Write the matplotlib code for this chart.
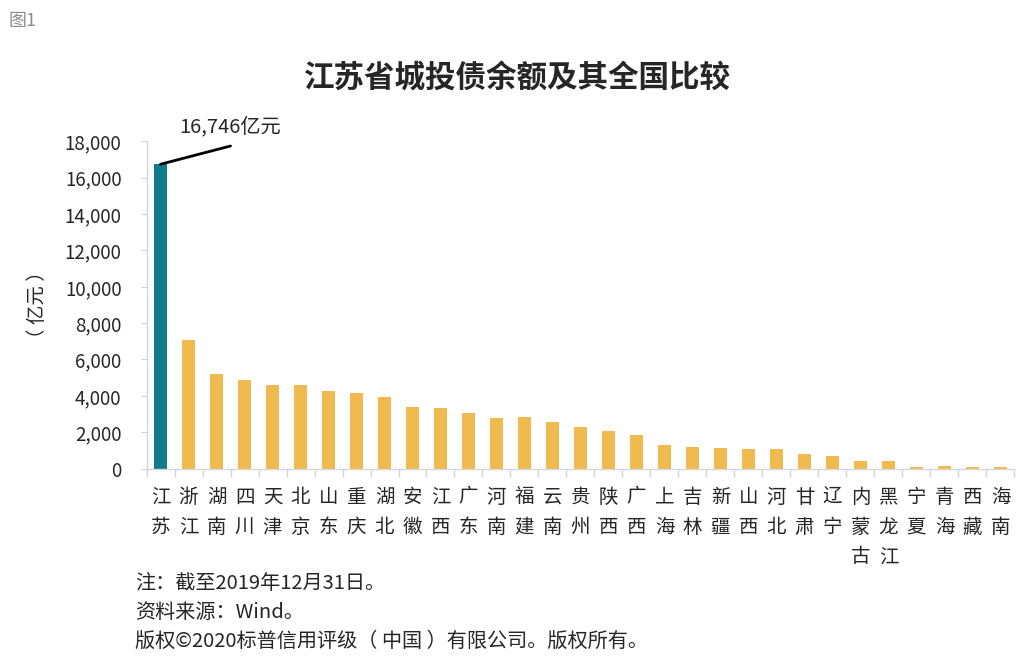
import numpy as np
import matplotlib
matplotlib.use('Agg')
import matplotlib.pyplot as plt

plt.rcParams['font.family'] = ['Noto Sans CJK SC', 'DejaVu Sans']

# 省份名称与城投债余额（亿元）
provinces = ['江苏', '浙江', '湖南', '四川', '天津', '北京', '山东', '重庆', '湖北', '安徽',
             '江西', '广东', '河南', '福建', '云南', '贵州', '陕西', '广西', '上海', '吉林',
             '新疆', '山西', '河北', '甘肃', '辽宁', '内蒙古', '黑龙江', '宁夏', '青海', '西藏', '海南']
balance = [16746, 7100, 5220, 4880, 4620, 4610, 4250, 4140, 3920, 3360,
           3340, 3040, 2800, 2840, 2550, 2260, 2040, 1870, 1270, 1170,
           1140, 1100, 1050, 810, 680, 440, 440, 110, 130, 90, 70]
highlight = '江苏'

teal = '#117a8b'
yellow = '#f0ba4e'
grid_grey = '#d6d6d6'
text_col = '#262626'

fig = plt.figure(figsize=(10.34, 6.61), dpi=100)
ax = fig.add_axes([0.1417, 0.2912, 0.8394, 0.4948])

x = np.arange(len(provinces))
colors = [teal if p == highlight else yellow for p in provinces]
ax.bar(x, balance, width=0.49, color=colors, zorder=2)

ax.set_xlim(-0.5, len(provinces) - 0.5)
ax.set_ylim(0, 18000)
ax.set_yticks(np.arange(0, 18001, 2000))
ax.set_yticklabels([f'{v:,}' for v in range(0, 18001, 2000)])

# 类别标签竖排
ax.set_xticks(x)
ax.set_xticklabels(['\n'.join(p) for p in provinces], linespacing=1.56)
ax.set_xticks(np.arange(-0.5, len(provinces), 1), minor=True)
ax.tick_params(axis='x', which='major', length=0, pad=13, labelsize=14, labelcolor=text_col)
ax.tick_params(axis='x', which='minor', length=6, color=grid_grey, width=1)
ax.tick_params(axis='y', length=4, color=grid_grey, pad=14, labelsize=13.5, labelcolor=text_col)
for lab in ax.get_xticklabels():
    lab.set_verticalalignment('top')

for s in ['top', 'right']:
    ax.spines[s].set_visible(False)
for s in ['left', 'bottom']:
    ax.spines[s].set_color(grid_grey)
    ax.spines[s].set_linewidth(1)

ax.set_ylabel('（ 亿元 ）', fontsize=14, color=text_col, labelpad=12)

# 标注江苏数值
i0 = provinces.index(highlight)
ax.annotate('', xy=(i0, balance[i0]), xytext=(i0 + 2.5, 17750),
            arrowprops=dict(arrowstyle='-', color='black', lw=2, shrinkA=0, shrinkB=0))
ax.text(i0 + 2.5, 18250, f'{balance[i0]:,}亿元', fontsize=14.5, color=text_col,
        ha='center', va='bottom')

fig.text(0.5, 0.882, '江苏省城投债余额及其全国比较', ha='center', va='center',
         fontsize=22, fontweight='bold', color=text_col)
fig.text(0.008, 0.968, '图1', ha='left', va='center', fontsize=13, color='#8c8c8c')

notes = ['注：截至2019年12月31日。', '资料来源：Wind。', '版权©2020标普信用评级（ 中国 ）有限公司。版权所有。']
for k, t in enumerate(notes):
    fig.text(0.1305, 0.118 - k * 0.0445, t, ha='left', va='center', fontsize=14.5, color=text_col)

fig.savefig('out.png', dpi=100)
